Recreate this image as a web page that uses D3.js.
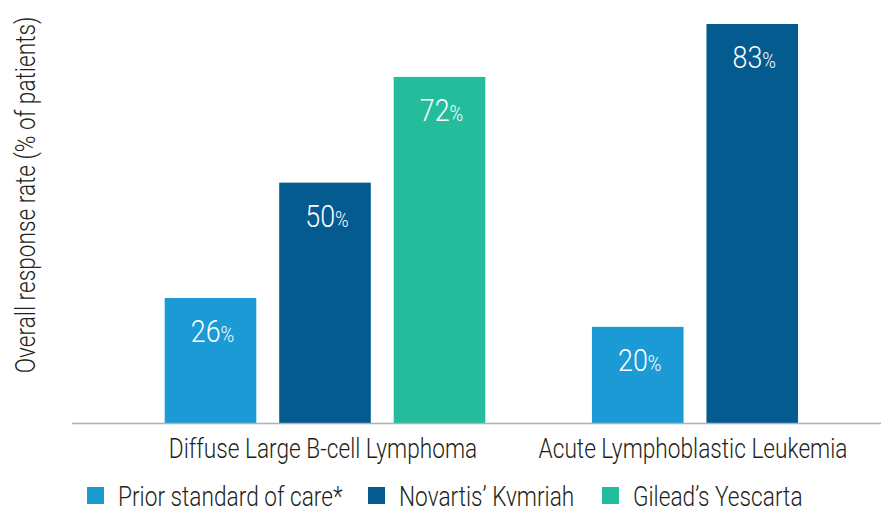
<!DOCTYPE html>
<html>
<head>
<meta charset="utf-8">
<script src="https://cdn.jsdelivr.net/npm/d3@7"></script>
<style>
  body { margin: 0; background: #fff; }
  text { font-family: "Roboto", "Noto Sans", sans-serif; font-weight: 300; }
</style>
</head>
<body>
<div id="chart"></div>
<script>
var categories = ["Diffuse Large B-cell Lymphoma", "Acute Lymphoblastic Leukemia"];
var seriesNames = ["Prior standard of care*", "Novartis\u2019 Kymriah", "Gilead\u2019s Yescarta"];
var priorCare = [26, 20];
var kymriah = [50, 83];
var yescarta = [72, null];
var seriesColors = ["#1b9ad6", "#045b90", "#25bc9c"];
var yTitle = "Overall response rate (% of patients)";

var width = 881, height = 506;
var squeeze = 0.84; // the original font is a narrow DIN-like face
var seriesValues = [priorCare, kymriah, yescarta];

var svg = d3.select("#chart")
  .append("svg")
  .attr("width", width)
  .attr("height", height);

// a text squeezed horizontally around its anchor point
function label(parent, x, y, anchor) {
  return parent.append("g")
    .attr("transform", "translate(" + x + "," + y + ") scale(" + squeeze + ",1)")
    .append("text")
    .attr("text-anchor", anchor || "start");
}

var x0 = d3.scaleBand()
  .domain(categories)
  .range([140, 880])
  .padding(0);

var y = d3.scaleLinear()
  .domain([0, 83])
  .range([423, 24]);

var step = 114.5;

categories.forEach(function(cat, ci) {
  var present = seriesNames.filter(function(s, si) { return seriesValues[si][ci] != null; });
  var n = present.length;
  var cx = x0(cat) + x0.bandwidth() / 2;
  var x1 = d3.scaleBand()
    .domain(present)
    .range([cx - n * step / 2, cx + n * step / 2])
    .paddingInner(0.2)
    .paddingOuter(0.1);

  var g = svg.append("g");
  present.forEach(function(s) {
    var si = seriesNames.indexOf(s);
    var v = seriesValues[si][ci];
    g.append("rect")
      .attr("x", x1(s))
      .attr("y", y(v))
      .attr("width", x1.bandwidth())
      .attr("height", y(0) - y(v))
      .attr("fill", seriesColors[si]);

    var t = label(g, x1(s) + x1.bandwidth() / 2 + 2, y(v) + 44, "middle")
      .attr("fill", "#fff")
      .style("font-size", "32px");
    t.append("tspan").text(v);
    t.append("tspan").style("font-size", "22px").text("%");
  });

  label(svg, cx - 2, 458, "middle")
    .attr("fill", "#231f20")
    .style("font-size", "27px")
    .text(cat);
});

// baseline
svg.append("line")
  .attr("x1", 72)
  .attr("x2", 881)
  .attr("y1", y(0) + 0.5)
  .attr("y2", y(0) + 0.5)
  .attr("stroke", "#a9b3bc")
  .attr("stroke-width", 1.5);

// y title
svg.append("g")
  .attr("transform", "translate(35,195) rotate(-90) scale(" + squeeze + ",1)")
  .append("text")
  .attr("text-anchor", "middle")
  .attr("fill", "#231f20")
  .style("font-size", "27px")
  .text(yTitle);

// legend
var legendX = [87, 368, 602];
seriesNames.forEach(function(name, i) {
  svg.append("rect")
    .attr("x", legendX[i])
    .attr("y", 487)
    .attr("width", 17)
    .attr("height", 17)
    .attr("fill", seriesColors[i]);
  label(svg, legendX[i] + 31, 506)
    .attr("fill", "#231f20")
    .style("font-size", "27px")
    .text(name);
});
</script>
</body>
</html>
